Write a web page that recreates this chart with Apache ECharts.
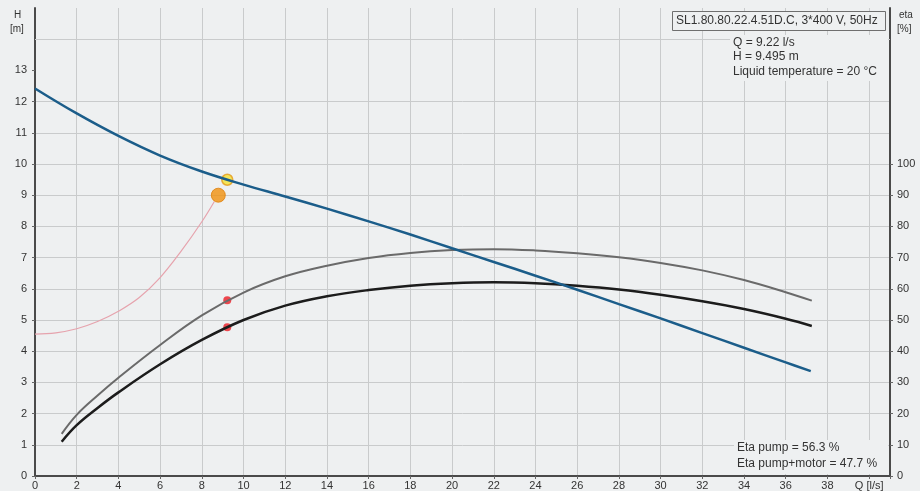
<!DOCTYPE html>
<html>
<head>
<meta charset="utf-8">
<script src="https://cdn.jsdelivr.net/npm/echarts@6/dist/echarts.min.js"></script>
<style>
  html, body { margin: 0; padding: 0; background: #eef0f1; }
  #chart { width: 920px; height: 491px; }
</style>
</head>
<body>
<div id="chart"></div>
<script>
// Pump performance curves, flow Q [l/s]
const headQ   = [0, 2, 4, 6, 8, 10, 12, 14, 16, 18, 20, 22, 24, 26, 28, 30, 32, 34, 36, 37.2];
const headH   = [12.42, 11.62, 10.9, 10.27, 9.76, 9.34, 8.96, 8.57, 8.16, 7.74, 7.3, 6.86, 6.42, 5.97, 5.51, 5.05, 4.58, 4.11, 3.64, 3.36];

const etaQ         = [1.28, 2, 3, 4, 6, 8, 10, 12, 14, 16, 18, 20, 22, 24, 26, 28, 30, 32, 34, 36, 37.25];
const etaPump      = [13.5, 19.6, 25.8, 31.5, 42.0, 51.5, 58.8, 64.0, 67.4, 69.9, 71.5, 72.4, 72.7, 72.3, 71.4, 70.1, 68.3, 65.9, 62.8, 58.9, 56.2];
const etaPumpMotor = [11.0, 16.3, 21.8, 26.8, 35.8, 43.6, 50.0, 54.6, 57.6, 59.6, 61.0, 61.8, 62.1, 61.8, 61.0, 59.8, 58.1, 56.0, 53.5, 50.4, 48.1];

const npshQ = [0, 1, 2, 3, 4, 5, 6, 7, 8, 8.6];
const npshH = [4.55, 4.59, 4.72, 4.95, 5.28, 5.72, 6.36, 7.2, 8.15, 8.8];

// Duty point and markers
const dutyPoint   = [9.22, 9.495];
const npshPoint   = [8.79, 9.0];
const etaPumpPt   = [9.22, 56.3];
const etaTotalPt  = [9.22, 47.7];

// Tick values carrying labels
const headTicks = [0, 1, 2, 3, 4, 5, 6, 7, 8, 9, 10, 11, 12, 13];
const etaTicks  = [0, 10, 20, 30, 40, 50, 60, 70, 80, 90, 100];
const upperGridH = 14;

const titleText = 'SL1.80.80.22.4.51D.C, 3*400 V, 50Hz';
const infoLines = ['Q = 9.22 l/s', 'H = 9.495 m', 'Liquid temperature = 20 °C'];
const etaLines  = ['Eta pump = 56.3 %', 'Eta pump+motor = 47.7 %'];

const zip = (xs, ys) => xs.map((x, i) => [x, ys[i]]);

const font = 'Liberation Sans, Arial, sans-serif';
const textColor = '#333';
const bg = '#eef0f1';
const gridColor = '#c9cbcc';

const chart = echarts.init(document.getElementById('chart'), null, { renderer: 'canvas' });

chart.setOption({
  backgroundColor: bg,
  animation: false,
  grid: { left: 35, right: 30, top: 8, bottom: 15, containLabel: false },
  xAxis: {
    type: 'value', min: 0, max: 41, interval: 2,
    axisLine: { show: true, onZero: false, lineStyle: { color: '#4a4a4a', width: 2 } },
    axisTick: { show: true, length: 3, lineStyle: { color: '#666' } },
    axisLabel: {
      color: textColor, fontFamily: font, fontSize: 11, margin: 4,
      formatter: v => v === 40 ? 'Q [l/s]' : (v > 40 ? '' : String(v))
    },
    splitLine: { show: true, showMaxLine: false, lineStyle: { color: gridColor, width: 1 } }
  },
  yAxis: [
    {
      type: 'value', min: 0, max: 15, interval: 1, position: 'left',
      axisLine: { show: true, lineStyle: { color: '#4a4a4a', width: 2 } },
      axisTick: { show: true, length: 3, customValues: headTicks, lineStyle: { color: '#666' } },
      axisLabel: {
        color: textColor, fontFamily: font, fontSize: 11, margin: 8,
        customValues: headTicks
      },
      splitLine: { show: true, showMaxLine: false, lineStyle: { color: gridColor, width: 1 } }
    },
    {
      type: 'value', min: 0, max: 150, interval: 10, position: 'right',
      axisLine: { show: true, lineStyle: { color: '#4a4a4a', width: 2 } },
      axisTick: { show: true, length: 3, customValues: etaTicks, lineStyle: { color: '#666' } },
      axisLabel: {
        color: textColor, fontFamily: font, fontSize: 11, margin: 7,
        customValues: etaTicks
      },
      splitLine: { show: false }
    }
  ],
  series: [
    {
      name: 'NPSH', type: 'line', yAxisIndex: 0, data: zip(npshQ, npshH),
      smooth: 0.4, symbol: 'none', z: 2,
      lineStyle: { color: '#e6a3ad', width: 1.2 },
      // unlabelled grid line above the top head tick
      markLine: {
        silent: true, symbol: 'none', animation: false, z: 1,
        label: { show: false },
        lineStyle: { color: gridColor, width: 1, type: 'solid' },
        data: [{ yAxis: upperGridH }]
      }
    },
    {
      name: 'Eta pump', type: 'line', yAxisIndex: 1, data: zip(etaQ, etaPump),
      smooth: 0.4, symbol: 'none',
      lineStyle: { color: '#6a6a6a', width: 2 }
    },
    {
      name: 'Eta pump+motor', type: 'line', yAxisIndex: 1, data: zip(etaQ, etaPumpMotor),
      smooth: 0.4, symbol: 'none',
      lineStyle: { color: '#1c1c1c', width: 2.5 }
    },
    {
      name: 'H', type: 'line', yAxisIndex: 0, data: zip(headQ, headH),
      smooth: 0.4, symbol: 'none',
      lineStyle: { color: '#1b5d8a', width: 2.5 }
    },
    {
      name: 'NPSH point', type: 'scatter', yAxisIndex: 0, data: [npshPoint],
      symbolSize: 14,
      itemStyle: { color: '#f0910f', borderColor: '#de7f0a', borderWidth: 1 }
    },
    {
      name: 'Duty point', type: 'scatter', yAxisIndex: 0, data: [dutyPoint],
      symbolSize: 11,
      itemStyle: { color: '#f5e232', borderColor: '#e39a1c', borderWidth: 1.5 }
    },
    {
      name: 'Eta points', type: 'scatter', yAxisIndex: 1, data: [etaPumpPt, etaTotalPt],
      symbolSize: 8,
      itemStyle: { color: '#ec1c24' }
    }
  ],
  graphic: [
    { type: 'text', left: 14, top: 10, style: { text: 'H', font: '10px ' + font, fill: textColor } },
    { type: 'text', left: 10, top: 24, style: { text: '[m]', font: '10px ' + font, fill: textColor } },
    { type: 'text', left: 899, top: 10, style: { text: 'eta', font: '10px ' + font, fill: textColor } },
    { type: 'text', left: 897, top: 24, style: { text: '[%]', font: '10px ' + font, fill: textColor } },
    // info text boxes sit on opaque backgrounds over the grid
    { type: 'rect', z: 100, shape: { x: 730, y: 35, width: 158, height: 46 }, style: { fill: bg } },
    { type: 'rect', z: 100, shape: { x: 734, y: 440, width: 154, height: 34 }, style: { fill: bg } },
    {
      type: 'rect', z: 100, shape: { x: 672.5, y: 11.5, width: 213, height: 19 },
      style: { fill: bg, stroke: '#6f6f6f', lineWidth: 1 }
    },
    { type: 'text', z: 101, left: 676, top: 15, style: { text: titleText, font: '12px ' + font, fill: textColor } },
    { type: 'text', z: 101, left: 733, top: 37, style: { text: infoLines[0], font: '12px ' + font, fill: textColor } },
    { type: 'text', z: 101, left: 733, top: 51, style: { text: infoLines[1], font: '12px ' + font, fill: textColor } },
    { type: 'text', z: 101, left: 733, top: 66, style: { text: infoLines[2], font: '12px ' + font, fill: textColor } },
    { type: 'text', z: 101, left: 737, top: 442, style: { text: etaLines[0], font: '12px ' + font, fill: textColor } },
    { type: 'text', z: 101, left: 737, top: 458, style: { text: etaLines[1], font: '12px ' + font, fill: textColor } }
  ]
});
</script>
</body>
</html>
